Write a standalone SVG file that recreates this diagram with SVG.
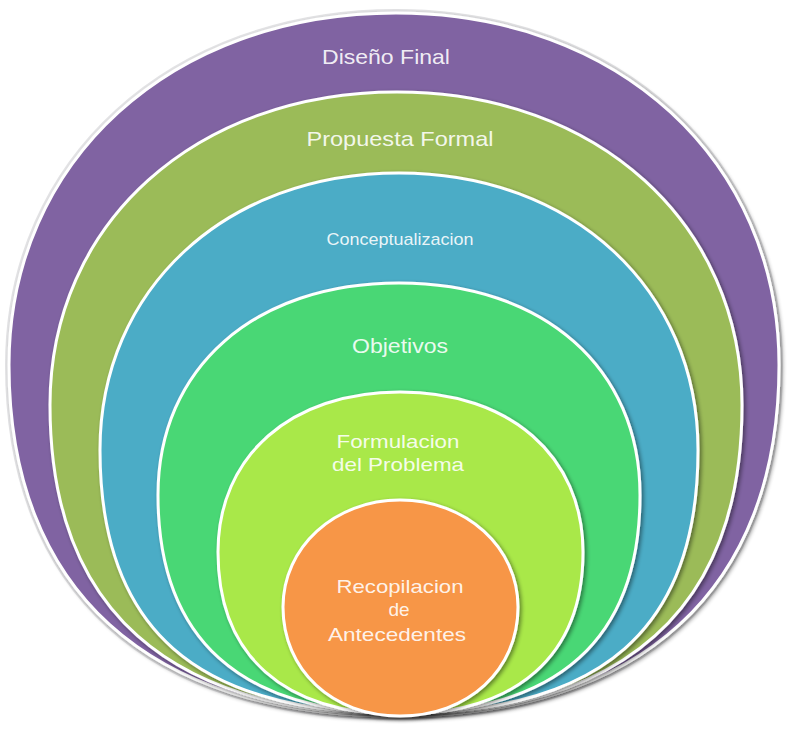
<svg xmlns="http://www.w3.org/2000/svg" width="800" height="736" viewBox="0 0 800 736">
  <defs>
    <filter id="sh" x="-10%" y="-10%" width="120%" height="120%">
      <feGaussianBlur in="SourceAlpha" stdDeviation="2"/>
      <feOffset dx="2" dy="2" result="b"/>
      <feComponentTransfer><feFuncA type="linear" slope="0.45"/></feComponentTransfer>
      <feMerge><feMergeNode/><feMergeNode in="SourceGraphic"/></feMerge>
    </filter>
  </defs>
  <style>
    .ring { stroke: #ffffff; stroke-width: 3; filter: url(#sh); }
    .lbl { font-family: "Liberation Sans", Arial, sans-serif; fill: #ffffff; fill-opacity: 0.9; text-anchor: middle; }
  </style>
  <rect width="800" height="736" fill="#ffffff"/>

  <g id="diseno-final">
    <path d="M396,13 C618.1,13 779,160.8 779,365 C779,589.6 641.1,716 396,716 C148.3,716 9,589.6 9,365 C9,160.8 171.5,13 396,13 Z" fill="none" stroke="#e4e4e6" stroke-width="8"/>
    <path class="ring" d="M396,13 C618.1,13 779,160.8 779,365 C779,589.6 641.1,716 396,716 C148.3,716 9,589.6 9,365 C9,160.8 171.5,13 396,13 Z" fill="#8064A2"/>
    <text class="lbl" x="386" y="64" font-size="21" textLength="128" lengthAdjust="spacingAndGlyphs">Diseño Final</text>
  </g>

  <g id="propuesta-formal">
    <path class="ring" d="M397,92 C597.1,92 742,223.5 742,405 C742,608.9 624.7,714 397,714 C168,714 50,608.9 50,405 C50,223.5 195.7,92 397,92 Z" fill="#9BBB59"/>
    <text class="lbl" x="400" y="146" font-size="21" textLength="187" lengthAdjust="spacingAndGlyphs">Propuesta  Formal</text>
  </g>

  <g id="conceptualizacion">
    <path class="ring" d="M399,173 C572.4,173 698,289.3 698,450 C698,628.8 602.3,713 399,713 C195.7,713 100,628.8 100,450 C100,289.3 225.6,173 399,173 Z" fill="#4BACC6"/>
    <text class="lbl" x="400" y="245" font-size="17" textLength="147" lengthAdjust="spacingAndGlyphs">Conceptualizacion</text>
  </g>

  <g id="objetivos">
    <path class="ring" d="M399,283 C543.6,283 640,367.8 640,495 C640,638.9 558.1,713 399,713 C239.9,713 158,638.9 158,495 C158,367.8 254.4,283 399,283 Z" fill="#4AD775"/>
    <text class="lbl" x="400" y="353" font-size="20" textLength="96" lengthAdjust="spacingAndGlyphs">Objetivos</text>
  </g>

  <g id="formulacion">
    <path class="ring" d="M400,392 C509.8,392 583,456 583,552 C583,655.7 517.1,714 400,714 C283.5,714 218,655.7 218,552 C218,456 290.8,392 400,392 Z" fill="#A9E84A"/>
    <text class="lbl" x="398" y="448" font-size="19" textLength="123" lengthAdjust="spacingAndGlyphs">Formulacion</text>
    <text class="lbl" x="398" y="471" font-size="19" textLength="132" lengthAdjust="spacingAndGlyphs">del Problema</text>
  </g>

  <g id="recopilacion">
    <path class="ring" d="M400,500 C466.1,500 518,547.1 518,607 C518,670.2 468.4,716 400,716 C332.1,716 283,670.2 283,607 C283,547.1 334.5,500 400,500 Z" fill="#F79646"/>
    <text class="lbl" x="400" y="593" font-size="19" textLength="127" lengthAdjust="spacingAndGlyphs">Recopilacion</text>
    <text class="lbl" x="399" y="616" font-size="19">de</text>
    <text class="lbl" x="397" y="641" font-size="19" textLength="138" lengthAdjust="spacingAndGlyphs">Antecedentes</text>
  </g>

  <g id="connectors"></g>
</svg>
